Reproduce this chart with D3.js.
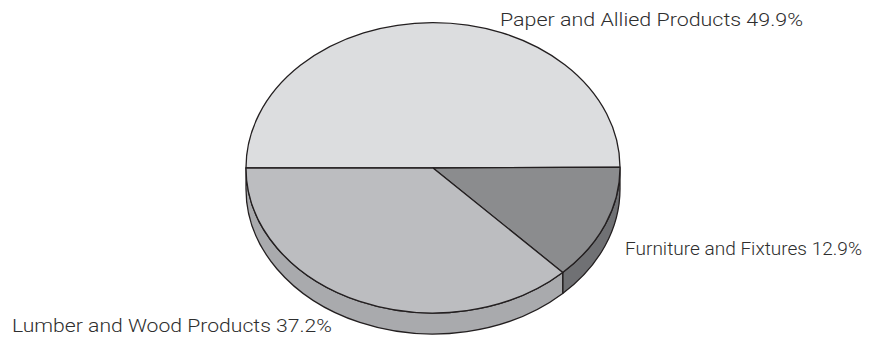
<!DOCTYPE html>
<html>
<head>
<meta charset="utf-8">
<script src="https://cdn.jsdelivr.net/npm/d3@7/dist/d3.min.js"></script>
<style>
  html, body { margin: 0; padding: 0; background: #fff; }
  svg { display: block; }
  text { font-family: Roboto, "Liberation Sans", Arial, sans-serif; font-weight: 300; fill: #2e2e2e; }
</style>
</head>
<body>
<svg id="chart" width="890" height="337"></svg>
<script>
// Shipments by industry group, percent share
const categories = ["Paper and Allied Products", "Furniture and Fixtures", "Lumber and Wood Products"];
const shares = [49.9, 12.9, 37.2];

const topColors  = ["#dcdddf", "#8b8c8e", "#bcbdc0"];
const sideColors = ["#c8c9cc", "#707174", "#a9aaad"];

const cx = 433, cy = 168, rx = 187, ry = 145, depth = 21;

const svg = d3.select("#chart");

// Angles run clockwise from 12 o'clock; the first slice starts at 9 o'clock
const pie = d3.pie().sort(null).value(d => d.v)
  .startAngle(-Math.PI / 2).endAngle(3 * Math.PI / 2);
const arcs = pie(categories.map((c, i) => ({ name: c, v: shares[i], i })));

const pt = (a, dy = 0) => [cx + rx * Math.sin(a), cy - ry * Math.cos(a) + dy];
const fmt = p => p[0].toFixed(2) + "," + p[1].toFixed(2);

function topPath(a0, a1) {
  const large = (a1 - a0) > Math.PI ? 1 : 0;
  return `M${cx},${cy}L${fmt(pt(a0))}A${rx},${ry} 0 ${large} 1 ${fmt(pt(a1))}Z`;
}

function sidePath(a0, a1) {
  // only the front half of the rim (from 3 o'clock to 9 o'clock) is visible
  const s = Math.max(a0, Math.PI / 2), e = Math.min(a1, 3 * Math.PI / 2);
  if (e <= s) return null;
  return `M${fmt(pt(s))}A${rx},${ry} 0 0 1 ${fmt(pt(e))}` +
         `L${fmt(pt(e, depth))}A${rx},${ry} 0 0 0 ${fmt(pt(s, depth))}Z`;
}

const g = svg.append("g");

// rim walls
g.selectAll("path.side")
  .data(arcs.filter(d => sidePath(d.startAngle, d.endAngle)))
  .join("path")
  .attr("class", "side")
  .attr("d", d => sidePath(d.startAngle, d.endAngle))
  .attr("fill", d => sideColors[d.data.i])
  .attr("stroke", "#231f20")
  .attr("stroke-width", 1.3)
  .attr("stroke-linejoin", "round");

// top faces
g.selectAll("path.top")
  .data(arcs)
  .join("path")
  .attr("class", "top")
  .attr("d", d => topPath(d.startAngle, d.endAngle))
  .attr("fill", d => topColors[d.data.i])
  .attr("stroke", "#231f20")
  .attr("stroke-width", 1.3)
  .attr("stroke-linejoin", "round");

// slice labels
const labelPos = [
  { x: 500, y: 26, anchor: "start" },
  { x: 625, y: 255, anchor: "start" },
  { x: 12, y: 332, anchor: "start" }
];
const labelWidth = [303, 237, 320];

svg.selectAll("text.lbl")
  .data(arcs)
  .join("text")
  .attr("class", "lbl")
  .attr("x", d => labelPos[d.data.i].x)
  .attr("y", d => labelPos[d.data.i].y)
  .attr("text-anchor", d => labelPos[d.data.i].anchor)
  .attr("font-size", 18.5)
  .attr("textLength", d => labelWidth[d.data.i])
  .attr("lengthAdjust", "spacingAndGlyphs")
  .text(d => `${d.data.name} ${d.data.v.toFixed(1)}%`);
</script>
</body>
</html>
